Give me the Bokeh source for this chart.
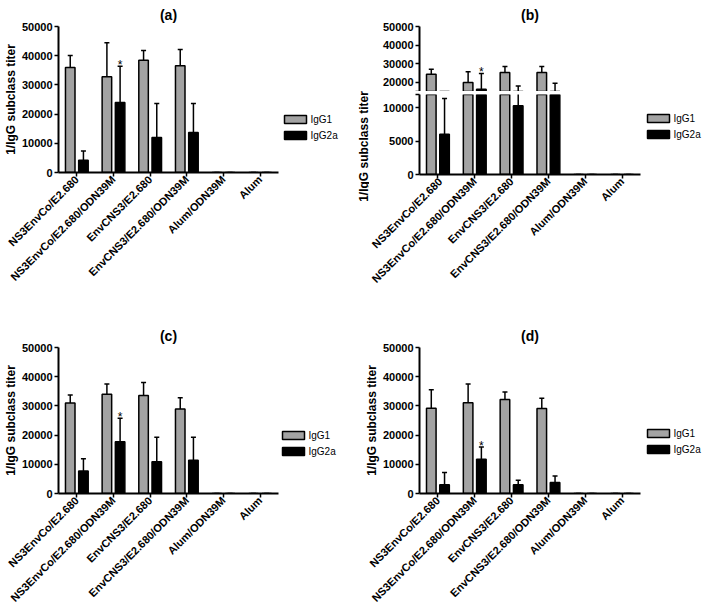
import math
from bokeh.plotting import figure
from bokeh.models import (ColumnDataSource, FactorRange, FixedTicker, Label, CDSView, BooleanFilter)
from bokeh.transform import dodge
from bokeh.layouts import row, column
from bokeh.embed import file_html
from bokeh.resources import INLINE
from bokeh.core.properties import value

# ---------------- data ----------------
categories = ["NS3EnvCo/E2.680", "NS3EnvCo/E2.680/ODN39M", "EnvCNS3/E2.680",
              "EnvCNS3/E2.680/ODN39M", "Alum/ODN39M", "Alum"]
series_names = ["IgG1", "IgG2a"]
stars = ["", "*", "", "", "", ""]

# panel (a)
a_igg1 = [36000, 32800, 38400, 36600, 0, 0]
a_igg1_err = [4100, 11600, 3400, 5500, 0, 0]
a_igg2a = [4200, 24000, 12000, 13700, 0, 0]
a_igg2a_err = [3200, 12400, 11600, 9900, 0, 0]

# panel (b)  (broken y axis)
b_igg1 = [24300, 19800, 25200, 25200, 0, 0]
b_igg1_err = [2700, 5900, 3200, 3300, 0, 0]
b_igg2a = [6050, 16200, 10300, 13800, 0, 0]
b_igg2a_err = [5350, 8500, 7700, 5700, 0, 0]

# panel (c)
c_igg1 = [31000, 34000, 33600, 28900, 0, 0]
c_igg1_err = [2750, 3500, 4400, 3900, 0, 0]
c_igg2a = [7700, 17700, 10900, 11400, 0, 0]
c_igg2a_err = [4200, 8100, 8400, 7900, 0, 0]

# panel (d)
d_igg1 = [29200, 31100, 32200, 29100, 0, 0]
d_igg1_err = [6300, 6400, 2600, 3500, 0, 0]
d_igg2a = [3000, 11700, 3000, 3750, 0, 0]
d_igg2a_err = [4170, 4200, 1500, 2250, 0, 0]

full_ticks = [0, 10000, 20000, 30000, 40000, 50000]
b_upper_ticks = [15000, 20000, 30000, 40000, 50000]
b_lower_ticks = [0, 5000, 10000, 12000]
y_title = "1/IgG subclass titer"

# ---------------- style ----------------
FONT = "Liberation Sans"
GRAY = "#a3a3a3"
series_colors = [GRAY, "black"]
OFF = 0.18
BW = 0.26


def make_source(v1, e1, v2, e2):
    return ColumnDataSource(data=dict(
        cat=categories,
        igg1=v1, igg1_top=[v + e for v, e in zip(v1, e1)],
        igg2a=v2, igg2a_top=[v + e for v, e in zip(v2, e2)],
        star=stars))


def new_fig(fw, fh, xr, yr, bl, br, bt, bb, title=None, xaxis=True):
    kw = dict(frame_width=fw, frame_height=fh, x_range=xr, y_range=yr,
              output_backend="svg", toolbar_location=None,
              min_border_left=bl, min_border_right=br,
              min_border_top=bt, min_border_bottom=bb, title=title)
    if not xaxis:
        kw["x_axis_location"] = None
    p = figure(**kw)
    p.grid.visible = False
    p.outline_line_color = None
    if title is not None:
        p.title.text_font = FONT
        p.title.text_font_size = "14px"
        p.title.text_font_style = "bold"
        p.title.text_color = "black"
        p.title.align = "center"
        p.title.offset = 5
        p.title.standoff = 8
    return p


def blank_fig(w, h):
    f = figure(frame_width=w, frame_height=h, x_range=(0, w), y_range=(0, h), min_border=0,
               x_axis_location=None, y_axis_location=None, toolbar_location=None,
               output_backend="svg", title=None)
    f.grid.visible = False
    f.outline_line_color = None
    return f


def style_y(p, ticks, overrides=None, label=None):
    ax = p.yaxis[0]
    ax.ticker = FixedTicker(ticks=ticks)
    if overrides:
        ax.major_label_overrides = overrides
    ax.axis_line_width = 2
    ax.major_tick_line_width = 1.5
    ax.major_tick_out = 4
    ax.major_tick_in = 0
    ax.minor_tick_line_color = None
    ax.major_label_text_font = FONT
    ax.major_label_text_font_size = "11px"
    ax.major_label_text_font_style = "bold"
    ax.major_label_text_color = "black"
    ax.major_label_standoff = 2
    if label:
        ax.axis_label = label
        ax.axis_label_text_font = FONT
        ax.axis_label_text_font_size = "12px"
        ax.axis_label_text_font_style = "bold"
        ax.axis_label_text_color = "black"
        ax.axis_label_standoff = 1


def style_x(p):
    ax = p.xaxis[0]
    ax.axis_line_width = 2
    ax.major_tick_line_width = 1.5
    ax.major_tick_out = 4
    ax.major_tick_in = 0
    ax.minor_tick_line_color = None
    ax.major_label_orientation = math.pi / 4
    ax.major_label_text_font = FONT
    ax.major_label_text_font_size = "11px"
    ax.major_label_text_font_style = "bold"
    ax.major_label_text_color = "black"
    ax.major_label_standoff = 1


def draw(p, src, star=True, view=None):
    xr = p.x_range
    vk = {} if view is None else {"view": view}
    p.vbar(x=dodge("cat", -OFF, range=xr), top="igg1", bottom=0, width=BW,
           source=src, fill_color=series_colors[0], line_color="black", line_width=1.5, **vk)
    p.vbar(x=dodge("cat", OFF, range=xr), top="igg2a", bottom=0, width=BW,
           source=src, fill_color=series_colors[1], line_color="black", line_width=1.5, **vk)
    for off, v, t in ((-OFF, "igg1", "igg1_top"), (OFF, "igg2a", "igg2a_top")):
        p.segment(x0=dodge("cat", off, range=xr), y0=v, x1=dodge("cat", off, range=xr), y1=t,
                  source=src, line_color="black", line_width=1.5, **vk)
        p.scatter(x=dodge("cat", off, range=xr), y=t, marker="dash", size=5,
                  line_color="black", line_width=1.5, source=src, **vk)
    if star:
        p.text(x=dodge("cat", OFF, range=xr), y="igg2a_top", text="star", source=src,
               text_align="center", text_baseline="alphabetic", y_offset=-1,
               text_font=value(FONT), text_font_size="12px", text_color="black", **vk)


def legend_fig(w, h, box_left, first_center_from_top):
    """Strip to the right of a panel holding its key (swatch + label per series)."""
    f = blank_fig(w, h)
    ys = [h - first_center_from_top - 16 * i for i in range(len(series_names))]
    src = ColumnDataSource(data=dict(name=series_names, color=series_colors, y=ys))
    f.rect(x=box_left + 11, y="y", width=22, height=8, fill_color="color",
           line_color="black", line_width=1.5, source=src)
    f.text(x=box_left + 26, y="y", text="name", source=src, text_baseline="middle",
           text_align="left", text_font=value(FONT), text_font_size="10px", text_color="black")
    return f


# ---------------- panel (a) ----------------
pa = new_fig(220, 146, FactorRange(*categories), (0, 50000), 49, 2, 25, 108, title="(a)")
sa = make_source(a_igg1, a_igg1_err, a_igg2a, a_igg2a_err)
draw(pa, sa)
style_y(pa, full_ticks, label=y_title)
style_x(pa)
leg_a = legend_fig(75, 280, 4, 93)

# ---------------- panel (b) broken axis ----------------
xr_b = FactorRange(*categories)
sb = make_source(b_igg1, b_igg1_err, b_igg2a, b_igg2a_err)
upper_view = CDSView(filter=BooleanFilter(booleans=[(u > 0 or w > 0) for u, w in zip(b_igg1, b_igg2a)]))

pb_up = new_fig(221, 65, xr_b, (15000, 50000), 50, 2, 25, 0, title="(b)", xaxis=False)
draw(pb_up, sb, star=True, view=upper_view)
style_y(pb_up, b_upper_ticks, overrides={15000: ""})

pb_lo = new_fig(221, 80, xr_b, (0, 12000), 50, 2, 3, 108)
draw(pb_lo, sb, star=False)
style_y(pb_lo, b_lower_ticks, overrides={12000: ""})
style_x(pb_lo)

# narrow strip carrying the shared y-axis title of the broken-axis panel
LAB_W, LAB_H = 14, 280
pb_lab = blank_fig(LAB_W, LAB_H)
pb_lab.add_layout(Label(x=8, y=LAB_H - 120, text=y_title, angle=math.pi / 2,
                        text_align="center", text_baseline="middle",
                        text_font=FONT, text_font_size="12px", text_font_style="bold",
                        text_color="black"))
leg_b = legend_fig(60, 280, 5, 92)

# ---------------- panel (c) ----------------
pc = new_fig(220, 146, FactorRange(*categories), (0, 50000), 49, 2, 55, 108, title="(c)")
sc = make_source(c_igg1, c_igg1_err, c_igg2a, c_igg2a_err)
draw(pc, sc)
style_y(pc, full_ticks, label=y_title)
style_x(pc)
leg_c = legend_fig(75, 300, 2, 88)

# ---------------- panel (d) ----------------
pd_ = new_fig(221, 146, FactorRange(*categories), (0, 50000), 64, 2, 55, 108, title="(d)")
sd = make_source(d_igg1, d_igg1_err, d_igg2a, d_igg2a_err)
draw(pd_, sd)
style_y(pd_, full_ticks, label=y_title)
style_x(pd_)
leg_d = legend_fig(60, 300, 5, 86)

top_row = row(pa, leg_a, pb_lab, column(pb_up, pb_lo, spacing=0), leg_b, spacing=0)
bottom_row = row(pc, leg_c, pd_, leg_d, spacing=0)
layout = column(top_row, bottom_row, spacing=0)

open("out.html", "w").write(file_html(layout, INLINE))
